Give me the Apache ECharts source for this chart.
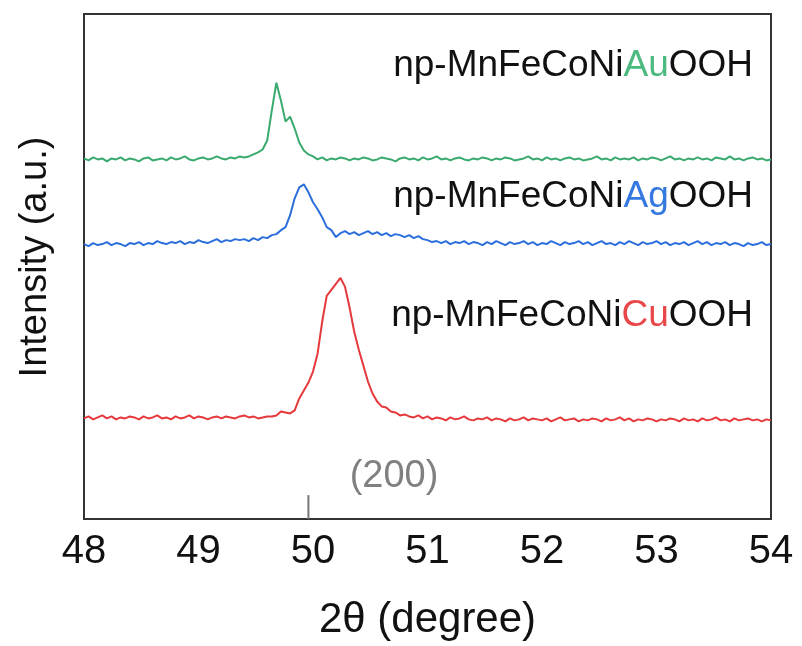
<!DOCTYPE html>
<html>
<head>
	<title>XRD</title>
	<meta charset="utf-8">
	<script src="https://cdn.jsdelivr.net/npm/echarts@6/dist/echarts.min.js"></script>
</head>
<body style="margin:0">
<div id="chart" style="width:802px;height:646px"></div>
<script>
	// 2θ grid (degree)
	const twoTheta = [
		48,48.04,48.08,48.12,48.16,48.2,48.24,48.28,48.32,48.36,
		48.4,48.44,48.48,48.52,48.56,48.6,48.64,48.68,48.72,48.76,
		48.8,48.84,48.88,48.92,48.96,49,49.04,49.08,49.12,49.16,
		49.2,49.24,49.28,49.32,49.36,49.4,49.44,49.48,49.52,49.56,
		49.6,49.64,49.68,49.72,49.76,49.8,49.84,49.88,49.92,49.96,
		50,50.04,50.08,50.12,50.16,50.2,50.24,50.28,50.32,50.36,
		50.4,50.44,50.48,50.52,50.56,50.6,50.64,50.68,50.72,50.76,
		50.8,50.84,50.88,50.92,50.96,51,51.04,51.08,51.12,51.16,
		51.2,51.24,51.28,51.32,51.36,51.4,51.44,51.48,51.52,51.56,
		51.6,51.64,51.68,51.72,51.76,51.8,51.84,51.88,51.92,51.96,
		52,52.04,52.08,52.12,52.16,52.2,52.24,52.28,52.32,52.36,
		52.4,52.44,52.48,52.52,52.56,52.6,52.64,52.68,52.72,52.76,
		52.8,52.84,52.88,52.92,52.96,53,53.04,53.08,53.12,53.16,
		53.2,53.24,53.28,53.32,53.36,53.4,53.44,53.48,53.52,53.56,
		53.6,53.64,53.68,53.72,53.76,53.8,53.84,53.88,53.92,53.96,
		54
	];

	// intensities (a.u., curves already offset)
	const auVals = [
		362,360,363,361,362,359,362,361,363,360,362,361,359,362,363,360,361,362,360,363,
		361,362,364,361,360,362,363,361,362,364,362,361,363,362,364,
		363,364,366,368,371,380,410,438,420,399,404,392,378,370,366,364,
		361,363,360,362,361,363,362,360,362,361,
		363,362,360,361,363,362,361,359,362,363,
		361,362,360,363,361,362,364,361,362,360,
		362,363,361,360,362,361,363,362,360,362,
		361,363,362,360,361,362,364,361,362,360,
		363,361,362,360,362,363,361,362,360,361,
		362,364,361,362,360,363,361,362,361,363,
		360,362,361,363,362,360,362,364,361,362,
		360,362,361,363,361,362,360,363,362,361,
		364,361,362,360,362,363,361,362,360,361
	];
	const agVals = [
		276,274,277,275,276,278,275,277,276,274,
		277,276,278,275,277,276,279,277,276,278,
		277,279,276,278,277,280,278,277,279,281,
		278,280,279,281,280,
		281,279,282,280,283,282,285,286,290,293,305,322,333,336,328,318,311,303,293,290,283,287,289,286,
		288,285,287,289,286,288,285,287,284,286,285,283,285,282,284,281,
		280,278,279,277,279,276,278,277,279,276,
		278,277,275,278,276,279,277,275,278,276,
		277,279,276,278,275,277,276,279,277,275,
		278,276,277,279,276,278,275,277,279,276,
		277,275,278,276,279,277,275,278,276,277,
		279,276,278,275,277,276,278,275,277,279,
		276,278,275,277,276,278,275,277,276,274,
		277,275,276,278,275,276
	];
	const cuVals = [
		101,103,100,102,104,101,103,100,102,101,
		103,102,100,103,101,102,104,101,102,100,
		103,101,102,104,101,103,102,100,102,103,
		101,103,102,101,103,104,102,103,101,102,
		103,
		103,104,108,107,106,109,121,129,137,148,166,198,224,230,236,
		242,233,212,188,170,154,138,126,118,113,112,108,107,104,
		105,103,102,104,101,103,100,102,101,99,
		102,100,101,103,100,99,101,100,102,99,
		101,100,98,101,99,100,102,99,101,100,
		99,101,98,100,102,99,100,101,98,100,
		99,101,100,98,101,99,100,102,99,101,
		98,100,99,101,100,98,100,99,101,100,
		98,101,99,100,98,101,99,100,102,99,
		100,98,101,99,100,101,99,100,98,100,
		99
	];
	const xTicks = [48, 49, 50, 51, 52, 53, 54];
	const refPeak = [[49.96, 0], [49.96, 24]];

	const green = '#3aaa6e', blue = '#2c6fdc', red = '#e5393c';
	const font = 'Liberation Sans, Arial, sans-serif';

	function pairs(vals){
		return twoTheta.map((x, i) => [x, vals[i]]);
	}
	function trace(name, vals, color){
		return {
			name: name,
			type: 'line',
			data: pairs(vals),
			symbol: 'none',
			lineStyle: {color: color, width: 2},
			z: 3
		};
	}
	function sampleLabel(metal, color, y){
		return {
			type: 'text',
			x: 753,
			y: y,
			style: {
				text: '{k|np-MnFeCoNi}{m|' + metal + '}{k|OOH}',
				align: 'right',
				verticalAlign: 'middle',
				rich: {
					k: {fontSize: 37, fontFamily: font, fill: '#111'},
					m: {fontSize: 37, fontFamily: font, fill: color}
				}
			}
		};
	}

	let myChart = echarts.init(document.getElementById('chart'));
	myChart.setOption({
		animation: false,
		backgroundColor: '#fff',
		grid: {
			left: 84, right: 31, top: 14, bottom: 125,
			show: true, borderColor: '#333', borderWidth: 2
		},
		xAxis: {
			type: 'value',
			min: 48, max: 54, interval: 1,
			name: '2θ (degree)',
			nameLocation: 'middle',
			nameGap: 80,
			nameTextStyle: {fontSize: 42, fontFamily: font, color: '#111'},
			axisLine: {lineStyle: {color: '#333', width: 2}},
			axisTick: {show: false},
			splitLine: {show: false},
			axisLabel: {
				fontSize: 40, fontFamily: font, color: '#111', margin: 13,
				formatter: v => xTicks.includes(v) ? String(v) : ''
			}
		},
		yAxis: {
			type: 'value',
			min: 0, max: 507,
			axisLine: {show: true, lineStyle: {color: '#333', width: 2}},
			axisTick: {show: false},
			axisLabel: {show: false},
			splitLine: {show: false}
		},
		series: [
			trace('np-MnFeCoNiAuOOH', auVals, green),
			trace('np-MnFeCoNiAgOOH', agVals, blue),
			trace('np-MnFeCoNiCuOOH', cuVals, red),
			{
				name: '(200)',
				type: 'line',
				data: refPeak,
				symbol: 'none',
				lineStyle: {color: '#777', width: 2},
				z: 2
			}
		],
		graphic: [
			sampleLabel('Au', '#4cb97e', 66),
			sampleLabel('Ag', '#3479e0', 197),
			sampleLabel('Cu', '#e8474a', 316),
			{
				type: 'text',
				x: 394,
				y: 477,
				style: {
					text: '(200)',
					align: 'center',
					verticalAlign: 'middle',
					fontSize: 38,
					fontFamily: font,
					fill: '#808080'
				}
			},
			{
				// y axis title, slightly above the plot centre as in the figure
				type: 'text',
				x: 36,
				y: 257,
				rotation: Math.PI / 2,
				style: {
					text: 'Intensity (a.u.)',
					align: 'center',
					verticalAlign: 'middle',
					fontSize: 38,
					fontFamily: font,
					fill: '#111'
				}
			}
		]
	});
</script>
</body>
</html>
